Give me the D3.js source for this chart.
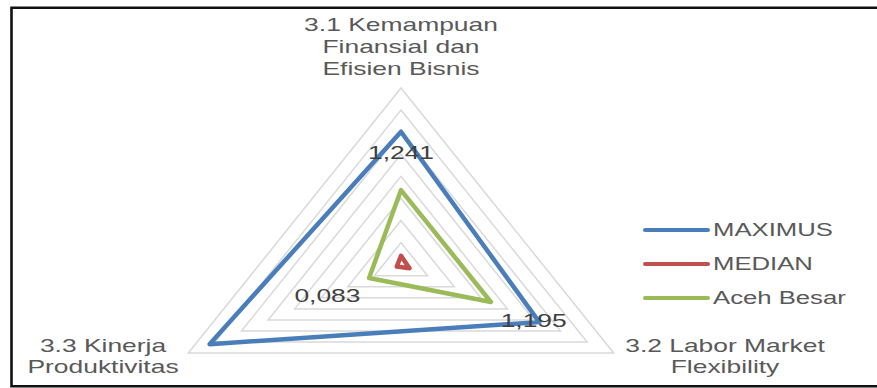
<!DOCTYPE html>
<html>
<head>
<meta charset="utf-8">
<script src="https://cdn.jsdelivr.net/npm/d3@7"></script>
<style>
  body { margin: 0; background: #fff; }
  svg { display: block; }
  text { font-family: "Liberation Sans", Arial, sans-serif; }
</style>
</head>
<body>
<svg id="chart" width="877" height="388"></svg>
<script>
// data
var axisLabels = [
  ["3.1 Kemampuan", "Finansial dan", "Efisien Bisnis"],
  ["3.2 Labor Market", "Flexibility"],
  ["3.3 Kinerja", "Produktivitas"]
];
var seriesNames = ["MAXIMUS", "MEDIAN", "Aceh Besar"];
var maximus   = [1.71, 1.30, 2.30];
var median    = [-1.10, -1.14, -1.22];
var acehBesar = [0.39, 0.39, -0.70];
var dataLabels = ["1,241", "1,195", "0,083"];
var dataLabelValues = [1.241, 1.195, 0.083];
var ringTicks = [-0.8, -0.3, 0.2, 0.7, 1.2, 1.7, 2.2, 2.7];

var colors = ["#4a7ebb", "#c0504d", "#9bbb59"];
var series = [maximus, median, acehBesar];

var svg = d3.select("#chart");
var sx = 1.39; // picture is stretched sideways
var cx = 401, cy = 264.7, ry = 176.7, rx = ry * sx;

var r = d3.scaleLinear().domain([-1.3, 2.7]).range([0, 1]);
var angle = d3.scaleLinear().domain([0, axisLabels.length]).range([0, 2 * Math.PI]);

function pt(i, v) {
  var a = angle(i), f = r(v);
  return [cx + rx * f * Math.sin(a), cy - ry * f * Math.cos(a)];
}
var line = d3.line().curve(d3.curveLinearClosed);

// frame
svg.append("path")
  .attr("d", "M877,7.8 H11.5 V386.3 H877")
  .attr("fill", "none").attr("stroke", "#111").attr("stroke-width", 2.6);

// rings
svg.append("g").selectAll("path").data(ringTicks).enter()
  .append("path")
  .attr("d", function(t){ return line(axisLabels.map(function(d, i){ return pt(i, t); })); })
  .attr("fill", "none").attr("stroke", "#d9d9d9").attr("stroke-width", 1.5);

// series
svg.append("g").selectAll("path").data(series).enter()
  .append("path")
  .attr("d", function(s){ return line(s.map(function(v, i){ return pt(i, v); })); })
  .attr("fill", "none")
  .attr("stroke", function(d, i){ return colors[i]; })
  .attr("stroke-width", 4.5)
  .attr("stroke-linejoin", "round");

function stretchedText(g, x, y, txt, size, fill, anchor) {
  return g.append("text")
    .attr("transform", "translate(" + x + "," + y + ") scale(" + sx + ",1)")
    .attr("text-anchor", anchor || "middle")
    .attr("font-size", size)
    .attr("fill", fill)
    .text(txt);
}

// data labels
var gl = svg.append("g");
dataLabels.forEach(function(txt, i){
  var p = pt(i, dataLabelValues[i]);
  stretchedText(gl, p[0], p[1] + 7, txt, 19, "#404040");
});

// axis labels
var labelPos = [
  { x: 401, y: 30.5, lh: 22 },
  { x: 725, y: 351.7, lh: 21 },
  { x: 103, y: 351.7, lh: 21 }
];
var ga = svg.append("g");
axisLabels.forEach(function(lines, i){
  lines.forEach(function(txt, k){
    stretchedText(ga, labelPos[i].x, labelPos[i].y + k * labelPos[i].lh, txt, 19, "#595959");
  });
});

// legend
var legend = svg.append("g").attr("transform", "translate(645,230)");
seriesNames.forEach(function(name, i){
  var y = i * 34;
  legend.append("line")
    .attr("x1", 0).attr("x2", 63).attr("y1", y).attr("y2", y)
    .attr("stroke", colors[i]).attr("stroke-width", 4).attr("stroke-linecap", "round");
  stretchedText(legend, 68, y + 6, name, 18.5, "#595959", "start");
});
</script>
</body>
</html>
